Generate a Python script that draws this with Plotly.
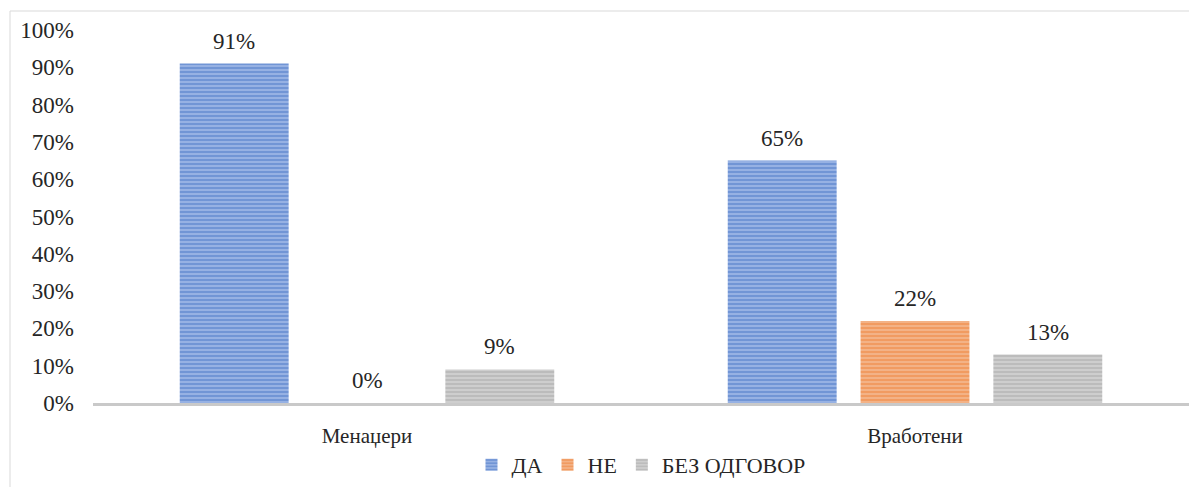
import plotly.graph_objects as go

categories = ["Менаџери", "Вработени"]
series_names = ["ДА", "НЕ", "БЕЗ ОДГОВОР"]
da_values = [0.91, 0.65]
ne_values = [0.00, 0.22]
bez_values = [0.09, 0.13]
y_tick_vals = [0, 0.1, 0.2, 0.3, 0.4, 0.5, 0.6, 0.7, 0.8, 0.9, 1.0]
y_tick_text = ["0%", "10%", "20%", "30%", "40%", "50%", "60%", "70%", "80%", "90%", "100%"]

W, H = 1189, 487
ML, MR, MT, MB = 93, 0, 30, 84
BARGAP, BARGROUPGAP = 0.273, 0.18

fg = ["#4472C4", "#ED7D31", "#A5A5A5"]
bg = ["#9fb8e6", "#f4b890", "#d2d2d2"]
values = [da_values, ne_values, bez_values]

font = "Liberation Serif"
txtc = "#262626"

fig = go.Figure()
for i, (name, vals) in enumerate(zip(series_names, values)):
    fig.add_trace(go.Bar(
        x=categories, y=vals, name=name,
        marker=dict(color=bg[i],
                    line=dict(width=0),
                    pattern=dict(shape="-", fgcolor=fg[i], bgcolor=bg[i],
                                 size=4, solidity=0.6, fillmode="overlay")),
        hoverinfo="skip",
    ))

# data labels above bars
plot_w = W - ML - MR
cat_px = plot_w / len(categories)
slot_px = cat_px * (1 - BARGAP) / len(series_names)
annotations = []
for i, vals in enumerate(values):
    for c, v in zip(categories, vals):
        annotations.append(dict(
            x=c, y=v, xref="x", yref="y", text=f"{round(v*100)}%",
            showarrow=False, yanchor="bottom", yshift=8,
            xshift=(i - 1) * slot_px,
            font=dict(family=font, size=23, color=txtc)))

plot_h = H - MT - MB
fig.update_layout(
    width=W, height=H,
    margin=dict(l=ML, r=MR, t=MT, b=MB),
    paper_bgcolor="white", plot_bgcolor="white",
    barmode="group", bargap=BARGAP, bargroupgap=BARGROUPGAP,
    font=dict(family=font, size=23, color=txtc),
    annotations=annotations,
    legend=dict(orientation="h", x=0.5, xanchor="center",
                y=-(465 - (H - MB)) / plot_h, yanchor="middle",
                font=dict(family=font, size=22, color=txtc),
                itemwidth=30, tracegroupgap=0),
    shapes=[dict(type="rect", xref="paper", yref="paper",
                 x0=(10 - ML) / plot_w, x1=1.05,
                 y0=-0.5, y1=(H - MB - 11) / plot_h,
                 line=dict(color="#d9d9d9", width=1), layer="below")],
)
fig.update_xaxes(showline=True, linecolor="#c9c9c9", linewidth=3,
                 showgrid=False, ticks="", ticklabelstandoff=12,
                 tickfont=dict(family=font, size=21, color=txtc))
fig.update_yaxes(range=[0, 1.0], tickvals=y_tick_vals, ticktext=y_tick_text,
                 showgrid=False, zeroline=False, showline=False,
                 ticks="", ticklabelstandoff=18,
                 tickfont=dict(family=font, size=23, color=txtc))

fig.write_html("out.html")
